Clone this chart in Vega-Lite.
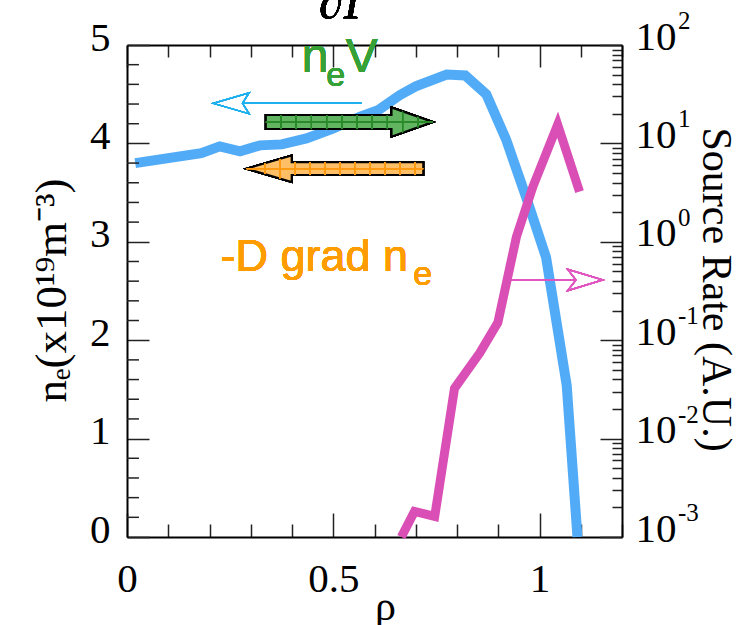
{
  "$schema": "https://vega.github.io/schema/vega-lite/v6.json",
  "width": 495,
  "height": 492,
  "autosize": {"type": "none"},
  "padding": {"left": 127, "top": 45, "right": 124, "bottom": 88},
  "background": "white",
  "config": {
    "view": {"stroke": null},
    "axis": {
      "domainColor": "black", "domainWidth": 2,
      "tickColor": "#222222", "tickWidth": 1.5,
      "labelFont": "Liberation Serif", "labelFontSize": 41, "labelColor": "black",
      "titleFont": "Liberation Serif", "titleFontSize": 42, "titleColor": "black", "titleFontWeight": "normal",
      "grid": false, "labelOverlap": false, "labelFlush": false, "labelBound": false
    }
  },
  "datasets": {
    "density": [
      {"rho": 0.02, "ne": 3.80},
      {"rho": 0.18, "ne": 3.90},
      {"rho": 0.225, "ne": 3.97},
      {"rho": 0.274, "ne": 3.92},
      {"rho": 0.322, "ne": 3.98},
      {"rho": 0.375, "ne": 3.99},
      {"rho": 0.435, "ne": 4.05},
      {"rho": 0.499, "ne": 4.15},
      {"rho": 0.564, "ne": 4.27},
      {"rho": 0.61, "ne": 4.34},
      {"rho": 0.661, "ne": 4.49},
      {"rho": 0.70, "ne": 4.58},
      {"rho": 0.775, "ne": 4.70},
      {"rho": 0.82, "ne": 4.69},
      {"rho": 0.871, "ne": 4.50},
      {"rho": 0.919, "ne": 4.04},
      {"rho": 0.968, "ne": 3.45},
      {"rho": 1.016, "ne": 2.84},
      {"rho": 1.066, "ne": 1.54},
      {"rho": 1.092, "ne": 0.0}
    ],
    "minorTicks": [
      {"ne": 0.2}, {"ne": 0.4}, {"ne": 0.6}, {"ne": 0.8},
      {"ne": 1.2}, {"ne": 1.4}, {"ne": 1.6}, {"ne": 1.8},
      {"ne": 2.2}, {"ne": 2.4}, {"ne": 2.6}, {"ne": 2.8},
      {"ne": 3.2}, {"ne": 3.4}, {"ne": 3.6}, {"ne": 3.8},
      {"ne": 4.2}, {"ne": 4.4}, {"ne": 4.6}, {"ne": 4.8}
    ],
    "source": [
      {"rho": 0.665, "rate": 0.001},
      {"rho": 0.697, "rate": 0.00182},
      {"rho": 0.746, "rate": 0.00162},
      {"rho": 0.794, "rate": 0.0324},
      {"rho": 0.855, "rate": 0.0741},
      {"rho": 0.899, "rate": 0.151},
      {"rho": 0.944, "rate": 1.12},
      {"rho": 0.984, "rate": 3.63},
      {"rho": 1.044, "rate": 15.5},
      {"rho": 1.097, "rate": 3.24}
    ],
    "exponents": [
      {"rate": 0.001, "exp": "-3"},
      {"rate": 0.01, "exp": "-2"},
      {"rate": 0.1, "exp": "-1"},
      {"rate": 1, "exp": "0"},
      {"rate": 10, "exp": "1"},
      {"rate": 100, "exp": "2"}
    ]
  },
  "layer": [
    {
      "layer": [
        {
          "data": {"name": "density"},
          "mark": {"type": "line", "color": "#52abf7", "strokeWidth": 10},
          "encoding": {
            "x": {
              "field": "rho", "type": "quantitative",
              "scale": {"domain": [0, 1.2], "nice": false, "zero": false},
              "axis": {
                "orient": "bottom",
                "values": [0, 0.1, 0.2, 0.3, 0.4, 0.5, 0.6, 0.7, 0.8, 0.9, 1, 1.1, 1.2],
                "labelExpr": "(datum.value == 0 || datum.value == 0.5 || datum.value == 1) ? datum.value : ''",
                "tickSize": {"condition": {"test": "datum.value == 0 || datum.value == 0.5 || datum.value == 1", "value": -24}, "value": -13},
                "labelPadding": 46, "labelOverlap": false,
                "title": "ρ", "titleFontSize": 42,
                "titleX": 258, "titleY": 82, "titleBaseline": "alphabetic", "titleAlign": "center"
              }
            },
            "y": {
              "field": "ne", "type": "quantitative",
              "scale": {"domain": [0, 5], "nice": false},
              "axis": {
                "orient": "left",
                "values": [0, 1, 2, 3, 4, 5],
                "format": "d",
                "tickSize": -22,
                "labelPadding": 39,
                "labelAlign": "right", "labelBaseline": "alphabetic", "labelOffset": 5,
                "labelOverlap": false,
                "title": "nₑ(x10¹⁹m⁻³)", "titleFontSize": 45,
                "titleX": -62, "titleY": 245, "titleAngle": -90, "titleBaseline": "alphabetic", "titleAlign": "center"
              }
            }
          }
        },
        {
          "data": {"name": "minorTicks"},
          "mark": {"type": "rule", "color": "#222222", "strokeWidth": 1.5},
          "encoding": {
            "x": {"datum": 0, "type": "quantitative"},
            "x2": {"datum": 0.029},
            "y": {"field": "ne", "type": "quantitative"}
          }
        },
        {
          "mark": {"type": "point", "shape": "M-1,-0.084L0.505,-0.084L0.505,-0.174L1,0L0.505,0.174L0.505,0.084L-1,0.084Z", "size": 27889, "filled": true, "fill": "#62b562", "fillOpacity": 0.8, "stroke": "black", "strokeWidth": 2, "strokeOpacity": 1},
          "encoding": {
            "x": {"datum": 0.539, "type": "quantitative"},
            "y": {"datum": 4.217, "type": "quantitative"}
          }
        },
        {
          "mark": {"type": "point", "shape": "M-0.818,-0.084L-0.818,0.084M-0.636,-0.084L-0.636,0.084M-0.454,-0.084L-0.454,0.084M-0.272,-0.084L-0.272,0.084M-0.09,-0.084L-0.09,0.084M0.092,-0.084L0.092,0.084M0.274,-0.084L0.274,0.084M0.456,-0.084L0.456,0.084M0.638,-0.124L0.638,0.124M0.82,-0.062L0.82,0.062M-1,0L1,0", "size": 27889, "filled": false, "stroke": "#2a8a2a", "strokeWidth": 1, "opacity": 1},
          "encoding": {
            "x": {"datum": 0.539, "type": "quantitative"},
            "y": {"datum": 4.217, "type": "quantitative"}
          }
        },
        {
          "mark": {"type": "point", "shape": "M-1,0L-0.49,-0.149L-0.49,-0.072L1,-0.072L1,0.072L-0.49,0.072L-0.49,0.149Z", "size": 31188, "filled": true, "fill": "#ffbf66", "fillOpacity": 1, "stroke": "black", "strokeWidth": 2, "strokeOpacity": 1},
          "encoding": {
            "x": {"datum": 0.504, "type": "quantitative"},
            "y": {"datum": 3.743, "type": "quantitative"}
          }
        },
        {
          "mark": {"type": "point", "shape": "M-0.793,-0.06L-0.793,0.06M-0.623,-0.11L-0.623,0.11M-0.453,-0.072L-0.453,0.072M-0.283,-0.072L-0.283,0.072M-0.113,-0.072L-0.113,0.072M0.057,-0.072L0.057,0.072M0.226,-0.072L0.226,0.072M0.396,-0.072L0.396,0.072M0.566,-0.072L0.566,0.072M0.736,-0.072L0.736,0.072M0.906,-0.072L0.906,0.072M-1,0L1,0", "size": 31188, "filled": false, "stroke": "#ff9a10", "strokeWidth": 1, "opacity": 1},
          "encoding": {
            "x": {"datum": 0.504, "type": "quantitative"},
            "y": {"datum": 3.743, "type": "quantitative"}
          }
        },
        {
          "mark": {"type": "point", "shape": "M1,0L-0.604,0M-1,0L-0.515,-0.1415L-0.604,0L-0.515,0.1415Z", "size": 22023, "filled": false, "stroke": "#1fb0ef", "strokeWidth": 1.3, "opacity": 1},
          "encoding": {
            "x": {"datum": 0.3886, "type": "quantitative"},
            "y": {"datum": 4.408, "type": "quantitative"}
          }
        },
        {
          "mark": {"type": "point", "shape": "M-1,0L0.428,0M1,0L0.248,-0.229L0.428,0L0.248,0.229Z", "size": 8724, "filled": false, "stroke": "#e055c0", "strokeWidth": 1.3, "opacity": 1},
          "encoding": {
            "x": {"datum": 1.040, "type": "quantitative"},
            "y": {"datum": 2.612, "type": "quantitative"}
          }
        },
        {
          "mark": {"type": "text", "text": "n", "font": "Liberation Sans", "fontSize": 48, "color": "#36a136", "align": "left", "baseline": "alphabetic"},
          "encoding": {
            "x": {"datum": 0.4237, "type": "quantitative"},
            "y": {"datum": 4.729, "type": "quantitative"}
          }
        },
        {
          "mark": {"type": "text", "text": "e", "font": "Liberation Sans", "fontSize": 34, "color": "#36a136", "align": "left", "baseline": "alphabetic"},
          "encoding": {
            "x": {"datum": 0.483, "type": "quantitative"},
            "y": {"datum": 4.583, "type": "quantitative"}
          }
        },
        {
          "mark": {"type": "text", "text": "V", "font": "Liberation Sans", "fontSize": 48, "color": "#36a136", "align": "left", "baseline": "alphabetic"},
          "encoding": {
            "x": {"datum": 0.530, "type": "quantitative"},
            "y": {"datum": 4.729, "type": "quantitative"}
          }
        },
        {
          "mark": {"type": "text", "text": "-D grad n", "font": "Liberation Sans", "fontSize": 45, "color": "#ff9c00", "align": "left", "baseline": "alphabetic"},
          "encoding": {
            "x": {"datum": 0.2266, "type": "quantitative"},
            "y": {"datum": 2.703, "type": "quantitative"}
          }
        },
        {
          "mark": {"type": "text", "text": "e", "font": "Liberation Sans", "fontSize": 34, "color": "#ff9c00", "align": "left", "baseline": "alphabetic"},
          "encoding": {
            "x": {"datum": 0.694, "type": "quantitative"},
            "y": {"datum": 2.561, "type": "quantitative"}
          }
        },
        {
          "mark": {"type": "text", "text": "∂Γ", "font": "Liberation Serif", "fontStyle": "italic", "fontSize": 50, "color": "black", "align": "center", "baseline": "alphabetic"},
          "encoding": {
            "x": {"datum": 0.530, "type": "quantitative"},
            "y": {"datum": 5.27, "type": "quantitative"}
          }
        }
      ]
    },
    {
      "layer": [
        {
          "data": {"name": "source"},
          "mark": {"type": "line", "color": "#d94fb5", "strokeWidth": 9},
          "encoding": {
            "x": {
              "field": "rho", "type": "quantitative",
              "scale": {"domain": [0, 1.2], "nice": false, "zero": false},
              "axis": {
                "orient": "top",
                "values": [0, 0.1, 0.2, 0.3, 0.4, 0.5, 0.6, 0.7, 0.8, 0.9, 1, 1.1, 1.2],
                "labels": false,
                "tickSize": {"condition": {"test": "datum.value == 0 || datum.value == 0.5 || datum.value == 1", "value": -22}, "value": -12},
                "title": null
              }
            },
            "y": {
              "field": "rate", "type": "quantitative",
              "scale": {"type": "log", "domain": [0.001, 100], "nice": false},
              "axis": {
                "orient": "right",
                "values": [0.001, 0.002, 0.003, 0.004, 0.005, 0.006, 0.007, 0.008, 0.009, 0.01, 0.02, 0.03, 0.04, 0.05, 0.06, 0.07, 0.08, 0.09, 0.1, 0.2, 0.3, 0.4, 0.5, 0.6, 0.7, 0.8, 0.9, 1, 2, 3, 4, 5, 6, 7, 8, 9, 10, 20, 30, 40, 50, 60, 70, 80, 90, 100],
                "labelExpr": "indexof([0.001, 0.01, 0.1, 1, 10, 100], datum.value) >= 0 ? '10' : ''",
                "tickSize": {"condition": {"test": "indexof([0.001, 0.01, 0.1, 1, 10, 100], datum.value) >= 0", "value": -22}, "value": -10},
                "labelPadding": 35, "labelAlign": "left", "labelBaseline": "alphabetic", "labelOffset": 4,
                "labelOverlap": false,
                "title": "Source Rate (A.U.)", "titleFontSize": 42,
                "titleX": 80, "titleY": 244, "titleAngle": 90, "titleBaseline": "alphabetic", "titleAlign": "center"
              }
            }
          }
        },
        {
          "data": {"name": "exponents"},
          "mark": {"type": "text", "font": "Liberation Serif", "fontSize": 25, "color": "black", "align": "left", "baseline": "alphabetic", "dx": 56, "dy": -16},
          "encoding": {
            "x": {"datum": 1.2, "type": "quantitative"},
            "y": {"field": "rate", "type": "quantitative"},
            "text": {"field": "exp"}
          }
        }
      ]
    }
  ],
  "resolve": {"scale": {"y": "independent"}, "axis": {"x": "independent", "y": "independent"}}
}
